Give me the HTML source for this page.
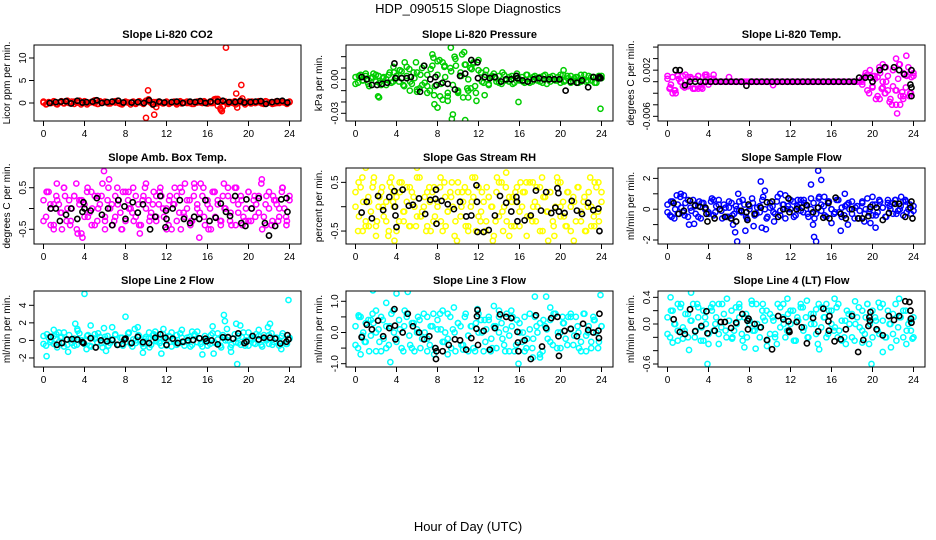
<!DOCTYPE html>
<html><head><meta charset="utf-8"><style>
body{margin:0;background:#fff;}
svg{display:block;font-family:"Liberation Sans",Arial,sans-serif;}
</style></head><body>
<svg id="chart" width="936" height="540" viewBox="0 0 936 540" xmlns="http://www.w3.org/2000/svg">
<text x="468" y="13" text-anchor="middle" font-size="13">HDP_090515  Slope Diagnostics</text>
<text x="468" y="531" text-anchor="middle" font-size="13">Hour of Day (UTC)</text>
</svg>
<script>
// ---------- shared axis data ----------
const xTickValues = [0,4,8,12,16,20,24];
const xTickLabels = ["0","4","8","12","16","20","24"];

// ---------- Panel 1: Li-820 CO2 ----------
const co2Main = [0.1,-0.3,0.2,0.0,0.3,-0.2,0.1,0.4,-0.1,0.2,0.0,0.3,-0.2,0.1,0.5,0.0,0.2,-0.3,0.1,0.3,0.0,-0.2,0.4,0.1,0.2,0.0,-0.1,0.3,0.1,0.5,-0.2,0.0,0.2,0.1,-0.3,0.3,0.0,0.2,0.1,-0.2,0.4,0.8,0.0,0.2,-0.1,0.3,0.1,0.0,0.2,-0.2,0.1,0.3,0.0,0.2,-0.1,0.1,0.3,0.0,-0.2,0.2,0.1,0.4,0.0,0.2,-0.1,0.3,0.0,0.6,0.9,-1.2,-0.8,0.3,0.1,0.2,0.0,-0.3,0.1,0.6,0.2,0.0,0.3,-0.1,0.2,0.1,0.4,0.0,-0.2,0.3,0.1,0.2,-0.1,0.0,0.3,0.2,0.1,-0.2,0.2];
const co2Main2 = [0.3,-0.2,0.1,0.4,-0.3,0.2,0.0,0.5,-0.1,0.3,0.1,-0.3,0.4,0.0,0.2,0.6,-0.2,0.1,0.3,-0.1,0.2,0.4,0.0,-0.3,0.3,0.1,0.2,-0.2,0.4,0.0,0.5,0.3,-0.4,0.2,0.1,-0.1,0.3,0.0,0.2,-0.3,0.4,0.1,0.0,0.2,-0.2,0.3,0.1,0.4,-0.1,0.0,0.8,-0.6,0.2,0.3,-0.2,0.1,0.4,0.0,0.2,-0.3,0.1,0.3,0.0,0.2,-0.1,0.4,0.1,-0.2,0.3,0.0,0.2,0.1,0.3];
const co2ExtraHours = [10.0,10.2,10.8,11.0,17.3,17.4,17.8,18.8,18.9,19.3,19.4,16.8,17.0];
const co2ExtraValues = [-3.3,2.8,-2.6,-0.9,-1.5,-1.8,12.3,2.1,-1.0,4.0,1.0,0.9,0.8];
const co2BlackHours = [0.6,1.2,1.7,2.2,2.7,3.3,3.8,4.2,4.8,5.2,5.7,6.2,6.7,7.3,7.8,8.6,9.2,9.8,10.3,10.7,11.3,11.8,12.5,13.0,13.6,14.3,14.8,15.3,15.8,16.3,17.0,17.5,18.1,18.7,19.2,19.6,20.2,20.7,21.2,21.7,22.3,22.8,23.3,23.8];
const co2BlackValues = [0.0,0.2,0.3,0.4,-0.1,0.5,0.1,0.2,0.3,0.6,0.0,0.2,0.3,0.5,0.1,0.1,0.2,0.0,0.6,-0.3,0.3,0.1,0.2,0.3,0.0,0.3,0.2,0.4,0.0,0.3,0.3,0.5,0.2,0.2,0.4,0.1,0.2,0.3,0.4,-0.2,0.2,0.4,0.5,0.1];

// ---------- Panel 2: Li-820 Pressure ----------
const presMain = [0.002,-0.003,0.004,-0.001,0.003,-0.004,0.001,0.005,-0.002,0.003,-0.005,0.002,0.000,0.004,-0.003,0.006,0.001,-0.002,0.007,-0.006,0.003,0.009,-0.004,0.001,0.006,-0.008,0.010,-0.003,0.004,-0.010,0.012,-0.006,0.004,-0.015,0.015,0.002,-0.012,0.010,-0.005,0.018,-0.010,0.006,-0.016,0.013,0.000,-0.008,0.014,-0.012,0.008,0.006,-0.003,0.008,-0.004,0.002,0.005,-0.002,0.003,-0.004,0.004,0.000,-0.002,0.003,-0.003,0.005,-0.001,0.002,-0.003,0.004,0.000,-0.002,0.003,-0.001,0.002,-0.003,0.004,0.000,-0.002,0.003,-0.001,0.002,-0.003,0.004,-0.001,0.001,0.003,-0.002,0.002,-0.003,0.004,0.000,-0.002,0.003,-0.001,0.002,-0.003,0.003,0.001];
const presMain2 = [-0.004,0.003,-0.001,0.005,-0.006,0.002,0.004,-0.003,0.001,-0.005,0.006,-0.002,0.003,0.008,-0.005,0.011,-0.002,0.006,-0.009,0.004,0.012,-0.006,0.009,-0.014,0.016,-0.004,0.011,-0.019,0.007,0.020,-0.011,0.003,0.013,-0.016,0.009,-0.006,0.017,-0.002,0.004,-0.005,0.003,0.001,-0.003,0.006,-0.001,0.002,-0.004,0.003,0.000,-0.002,0.004,-0.003,0.002,0.001,-0.002,0.003,-0.004,0.002,0.000,-0.001,0.004,-0.002,0.003,-0.003,0.001,0.002,-0.002,0.004,-0.001,0.002,-0.003,0.001,0.003];
const presExtraHours = [2.2,2.3,7.5,7.6,7.7,8.0,8.2,9.3,9.4,9.5,10.7,10.4,10.6,11.8,12.6,15.9,20.3,23.9,3.7,4.8,5.9,6.5,7.0,8.5,9.0,11.5,11.0,10.0,9.8,8.7,5.3,6.0,4.3,10.9,11.2];
const presExtraValues = [-0.015,-0.016,0.022,0.019,-0.022,-0.025,0.017,0.028,-0.035,-0.031,-0.036,0.022,0.024,-0.019,-0.014,-0.020,0.008,-0.026,0.011,0.015,0.015,-0.005,-0.012,-0.018,-0.015,0.015,-0.010,-0.012,0.012,0.012,-0.010,-0.011,0.008,-0.008,0.010];
const presBlackHours = [0.6,1.1,1.6,2.1,2.6,3.1,3.8,3.9,4.5,5.0,5.4,6.3,6.7,7.3,7.8,7.9,8.5,9.0,9.7,10.2,10.7,11.3,11.9,11.95,12.6,13.1,13.6,14.2,14.7,15.2,15.7,15.8,16.3,16.8,17.4,17.9,18.4,18.9,19.4,19.9,20.5,21.0,21.6,22.1,22.7,23.2,23.7,23.8,23.9];
const presBlackValues = [0.002,0.0,-0.005,-0.005,-0.004,-0.003,0.014,0.001,0.001,0.001,0.002,-0.011,0.012,0.0,0.002,-0.005,-0.003,-0.004,-0.009,0.003,0.005,0.017,0.015,0.001,0.002,0.001,0.002,-0.002,0.0,0.0,0.003,0.001,-0.001,-0.002,0.0,0.001,0.0,0.0,0.0,0.0,-0.010,-0.002,-0.003,-0.001,-0.007,0.002,0.001,0.002,0.001];

// ---------- Panel 3: Li-820 Temp ----------
const tempMain = [0.0005,-0.0010,0.0008,-0.0015,0.0010,0.0,-0.0008,0.0012,-0.0005,0.0008,-0.0012,0.0005,0.0010,-0.0010,0.0,0.0008,-0.0005,0.0005,0.0005,0,0,0,0,0,0,0,0,0,0,0,0,0,0,0,0,0,0,0,0,0,0,0,0,0,0,0,0,0,0,0,0,0,0,0,0,0,0,0,0,0,0,0,0,0,0,0,0,0,0,0,0,0,0,0,0,0,0,0.0010,-0.0015,0.0020,-0.0010,0.0005,-0.0025,0.0015,0.0,-0.0020,0.0010,-0.0030,0.0020,-0.0015,0.0005,-0.0025,0.0015,-0.0010,0.0025,-0.0020,0.0010];
const tempMain2 = [0.0010,-0.0005,-0.0015,0.0012,0.0,-0.0010,0.0008,0.0005,-0.0012,0.0010,-0.0005,0.0012,0.0,0,0,0,0,0,0,0,0,0,0,0,0,0,0,0,0,0,0,0,0,0,0,0,0,0,0,0,0,0,0,0,0,0,0,0,0,0,0,0,0,0,0,0,0,-0.0005,0.0015,-0.0020,0.0010,-0.0030,0.0025,-0.0010,0.0,-0.0035,0.0020,-0.0015,0.0030,-0.0030,0.0010,-0.0020,0.0015];
const tempExtraHours = [21.0,21.3,22.3,22.6,23.3,20.7,21.9,22.3,22.7,22.4,21.2,23.0,23.6,20.2,0.5,0.8,1.5,2.5,3.0,3.8,4.5,10.3,6.0,19.5,20.0,20.5,21.5,22.0,23.5,23.8,19.0,20.9,22.9,23.1,0.2,1.1,2.0,3.4];
const tempExtraValues = [0.0030,0.0025,0.0040,0.0030,0.0045,-0.0030,-0.0040,-0.0040,-0.0040,-0.0055,-0.0020,-0.0025,-0.0025,0.0010,-0.0020,-0.0020,0.0010,-0.0012,-0.0012,0.0012,0.0012,-0.0006,0.0008,0.0012,-0.0008,0.0008,-0.0015,-0.0008,0.0012,0.0008,0.0005,-0.0012,-0.0018,0.0012,-0.0012,0.0005,-0.0008,-0.0012];
const tempBlackHours = [0.8,1.2,1.7,2.2,2.7,3.2,3.7,4.2,4.7,5.2,5.7,6.2,6.7,7.2,7.7,8.2,8.7,9.2,9.7,10.2,10.7,11.2,11.7,12.2,12.7,13.2,13.7,14.2,14.7,15.2,15.7,16.2,16.7,17.2,17.7,18.2,18.7,19.3,19.8,20.0,20.7,21.2,22.1,22.6,23.1,23.8,23.7,23.8,23.8];
const tempBlackValues = [0.002,0.002,-0.0006,0,0,0,0,0,0,0,0,0,0,0,-0.0007,0,0,0,0,0,0,0,0,0,0,0,0,0,0,0,0,0,0,0,0,0,0.0007,0.0007,0.0007,0.0,0.002,0.0025,0.0025,0.002,0.0013,0.002,-0.0005,-0.0010,-0.0025];

// ---------- Panel 4: Amb. Box Temp ----------
const ambMain = [0.2,-0.2,0.4,0.0,-0.4,0.3,0.1,-0.1,0.5,-0.3,0.2,0.0,0.3,-0.5,0.1,0.2,-0.2,0.4,-0.1,0.0,0.3,-0.3,0.1,0.6,-0.2,0.2,0.0,-0.4,0.3,0.1,-0.1,0.4,-0.3,0.2,0.0,0.5,-0.2,0.1,-0.4,0.3,0.0,0.2,-0.1,0.4,-0.3,0.1,0.3,-0.2,0.0,0.2,-0.5,0.1,0.3,-0.1,0.4,-0.2,0.0,0.2,-0.3,0.5,0.1,-0.1,0.3,-0.4,0.2,0.0,0.4,-0.2,0.1,-0.3,0.3,0.0,0.5,-0.1,0.2,-0.4,0.1,0.3,-0.2,0.0,0.4,-0.3,0.2,0.1,-0.1,0.6,-0.2,0.3,0.0,-0.4,0.2,0.1,-0.2,0.4,0.0,-0.3,0.2];
const ambMain2 = [-0.3,0.4,0.1,-0.5,0.2,-0.1,0.5,0.0,-0.3,0.3,-0.6,0.2,0.1,-0.2,0.4,-0.4,0.0,0.3,-0.3,0.5,0.1,-0.2,0.2,-0.5,0.4,0.0,-0.1,0.3,-0.4,0.2,0.6,-0.3,0.1,-0.2,0.4,0.0,-0.5,0.3,0.1,-0.3,0.5,-0.1,0.2,-0.4,0.3,0.0,0.6,-0.2,0.1,-0.5,0.4,0.2,-0.3,0.0,0.3,-0.4,0.5,-0.1,0.2,-0.3,0.4,0.0,-0.2,0.3,-0.5,0.1,0.4,-0.3,0.2,0.0,0.5,-0.2,0.3];
const ambExtraHours = [0.3,0.7,1.0,1.3,1.8,2.1,2.6,3.2,3.5,3.7,3.8,4.3,4.7,5.3,5.9,6.0,6.4,6.9,7.2,7.6,8.3,8.8,9.4,9.9,10.4,11.0,11.4,12.2,12.8,13.4,13.8,14.4,14.7,15.2,15.6,16.1,16.7,17.3,17.6,18.2,18.8,19.4,20.0,20.6,21.3,21.7,22.4,22.9,23.3,23.7];
const ambExtraValues = [0.4,-0.4,0.1,0.6,-0.5,0.3,-0.4,0.6,0.2,-0.6,-0.7,0.5,-0.4,0.3,0.9,-0.5,0.7,-0.3,0.5,-0.5,0.4,-0.3,-0.6,0.5,-0.2,0.3,0.5,-0.4,0.5,-0.5,0.6,-0.3,0.6,-0.7,0.5,-0.5,0.4,-0.4,0.6,-0.3,0.5,-0.4,-0.3,0.3,0.7,-0.4,0.3,-0.3,0.5,-0.4];
const ambBlackHours = [0.7,1.2,1.6,2.2,2.7,3.3,3.8,3.9,4.0,4.6,5.2,5.7,6.3,6.7,7.3,7.9,8.0,8.7,9.2,9.7,10.4,10.9,11.4,11.9,11.95,12.0,12.6,13.3,13.7,14.3,14.7,15.2,15.8,16.2,16.8,17.3,17.8,18.2,18.7,19.3,19.7,19.8,20.3,21.0,21.6,22.0,22.6,23.2,23.7,23.8];
const ambBlackValues = [0.0,0.0,-0.3,-0.15,0.0,-0.25,-0.08,0.15,0.0,-0.05,0.25,-0.15,0.0,-0.4,0.2,0.05,-0.25,0.15,-0.1,0.1,-0.5,-0.2,0.3,-0.45,-0.05,-0.25,0.0,0.2,-0.25,-0.35,-0.2,-0.25,0.2,-0.3,-0.22,0.12,-0.08,-0.18,0.3,-0.35,-0.42,0.22,0.0,0.25,-0.35,-0.65,-0.42,0.22,0.25,-0.08];

// ---------- Panel 5: Gas Stream RH ----------
const rhMain = [0.0,-0.5,0.4,0.1,-0.3,0.2,-0.1,0.5,-0.4,0.0,0.3,-0.2,0.1,-0.5,0.4,0.0,0.2,-0.3,0.5,-0.1,0.1,-0.4,0.3,0.0,-0.2,0.6,-0.1,0.2,-0.4,0.1,0.3,-0.2,0.0,0.4,-0.5,0.2,-0.1,0.3,0.0,-0.3,0.5,-0.2,0.1,-0.4,0.3,0.0,0.2,-0.5,0.4,-0.1,0.1,-0.3,0.2,0.0,-0.6,0.3,-0.2,0.5,0.0,-0.3,0.2,0.1,-0.4,0.4,-0.1,0.0,0.3,-0.2,0.5,-0.3,0.1,0.0,0.4,-0.5,0.2,-0.1,0.3,-0.3,0.0,0.5,-0.2,0.1,-0.4,0.3,0.0,0.2,-0.3,0.4,-0.1,0.1,-0.5,0.3,0.0,-0.2,0.4,-0.3,0.1];
const rhMain2 = [0.3,-0.2,0.6,-0.4,0.1,0.4,-0.6,0.2,0.0,-0.3,0.5,0.1,-0.5,0.3,-0.1,0.4,-0.4,0.2,0.6,-0.2,0.0,0.3,-0.5,0.4,0.1,-0.3,0.5,-0.1,0.2,-0.6,0.3,0.0,0.4,-0.4,0.1,0.6,-0.2,0.3,-0.5,0.2,0.0,-0.3,0.5,-0.1,0.4,-0.6,0.2,0.1,-0.4,0.3,0.5,-0.2,0.0,0.4,-0.5,0.2,-0.1,0.3,-0.4,0.6,0.0,-0.2,0.3,-0.5,0.1,0.4,-0.3,0.2,0.0,-0.4,0.5,-0.1,0.3];
const rhExtraHours = [0.3,0.7,1.0,1.3,1.8,2.1,2.6,3.2,3.5,3.7,3.8,4.3,4.7,5.3,5.9,6.0,6.4,6.9,7.2,7.6,8.3,8.8,9.4,9.9,10.4,11.0,11.4,12.2,12.8,13.4,13.8,14.4,14.7,15.2,15.6,16.1,16.7,17.3,17.6,18.2,18.8,19.4,20.0,20.6,21.3,21.7,22.4,22.9,23.3,23.7];
const rhExtraValues = [0.5,-0.5,0.8,-0.4,0.6,-0.3,0.4,-0.6,0.6,0.3,-0.7,0.5,-0.3,0.4,-0.4,0.8,-0.2,-0.5,0.4,-0.3,0.6,-0.4,0.5,-0.7,0.3,-0.5,0.6,-0.3,0.4,-0.7,0.6,-0.5,0.7,-0.4,0.3,0.5,-0.6,0.5,-0.3,0.6,-0.7,-0.6,0.5,-0.4,-0.7,0.4,-0.5,0.6,-0.4,0.5];
const rhBlackHours = [0.6,1.1,1.6,2.2,2.7,3.3,3.8,3.85,3.9,4.0,4.6,5.2,5.6,6.2,6.8,7.3,7.8,7.85,7.9,8.4,9.0,9.6,10.2,10.8,11.3,11.8,11.85,11.9,12.5,13.0,13.6,14.1,14.7,15.2,15.7,15.75,15.8,16.5,17.1,17.6,18.1,18.6,19.1,19.5,19.7,19.8,19.85,20.4,21.1,21.6,22.1,22.7,23.2,23.7,23.8];
const rhBlackValues = [-0.12,0.1,-0.24,0.22,-0.07,0.2,0.32,0.0,-0.18,-0.42,0.35,0.02,0.04,0.17,-0.15,0.14,0.16,0.35,-0.35,0.12,0.05,-0.05,0.1,-0.2,-0.18,0.44,0.1,-0.52,-0.52,-0.48,-0.18,0.22,0.08,-0.1,0.2,0.1,-0.3,-0.28,-0.18,0.33,-0.08,0.3,-0.13,-0.02,0.38,0.28,-0.1,-0.13,0.12,-0.08,-0.15,0.08,-0.07,-0.04,-0.5];

// ---------- Panel 6: Sample Flow ----------
const sfMain = [0.3,-0.4,0.5,0.0,-0.3,0.8,-0.2,0.4,-0.5,0.1,0.6,-0.3,0.2,-0.6,0.4,0.0,-0.2,0.5,-0.4,0.2,0.6,-0.1,0.3,-0.5,0.1,0.4,-0.3,0.0,0.5,-0.2,0.3,-0.6,0.2,0.7,-0.4,0.1,-0.2,0.6,0.0,-0.5,0.4,0.2,-0.3,0.8,-0.1,0.3,-0.6,0.2,0.0,0.5,-0.4,0.1,0.6,-0.2,0.3,-0.5,0.0,0.4,-0.3,0.7,-0.1,0.2,-0.5,0.5,0.0,-0.3,0.6,-0.2,0.1,-0.4,0.3,0.0,0.5,-0.6,0.2,-0.1,0.4,-0.3,0.7,0.0,-0.4,0.3,-0.2,0.5,0.1,-0.5,0.4,0.0,-0.3,0.6,-0.1,0.2,-0.4,0.5,0.0,-0.3,0.2];
const sfMain2 = [-0.2,0.5,-0.6,0.3,0.1,-0.4,0.6,-0.1,0.2,-0.5,0.4,0.0,-0.3,0.7,-0.2,0.3,-0.6,0.1,0.5,-0.4,0.2,-0.1,0.6,-0.5,0.0,0.4,-0.3,0.2,0.8,-0.6,0.1,-0.2,0.5,-0.4,0.3,0.0,0.6,-0.5,0.2,-0.1,0.4,-0.3,0.7,-0.6,0.1,0.3,-0.4,0.5,0.0,-0.2,0.6,-0.5,0.2,0.4,-0.3,0.1,-0.6,0.5,0.0,-0.2,0.3,-0.4,0.6,0.1,-0.5,0.2,0.4,-0.3,0.0,0.5,-0.2,0.3,-0.1];
const sfExtraHours = [0.4,0.9,1.3,1.6,2.1,2.6,3.1,4.5,5.9,6.4,6.6,6.8,6.9,7.6,8.4,9.1,9.2,9.5,9.6,10.4,11.0,11.5,12.7,13.3,14.0,14.2,14.3,14.5,14.7,14.8,15.0,15.3,16.0,16.9,17.3,17.6,19.2,19.8,20.0,20.3,21.5,22.2,22.8,23.2];
const sfExtraValues = [-0.5,0.9,1.0,0.9,-1.0,-0.95,0.5,0.6,-0.5,-1.0,-1.5,-2.1,1.0,-1.4,-1.1,1.8,-1.2,1.2,-1.3,-0.8,1.0,0.9,0.6,0.6,1.6,-1.0,-1.8,-2.1,2.5,0.8,1.9,0.8,-0.9,-1.4,1.0,-1.0,-0.8,-0.9,0.8,-1.2,0.6,0.6,0.8,0.6];
const sfBlackHours = [0.6,1.1,1.6,2.2,2.7,3.2,3.7,3.8,3.9,4.6,5.1,5.6,6.2,6.7,7.2,7.7,7.8,7.9,8.5,9.1,9.7,10.2,10.8,11.3,11.8,11.9,12.6,13.1,13.6,14.2,14.7,15.2,15.7,15.8,16.4,16.9,17.4,18.0,18.6,19.0,19.6,19.8,20.4,21.0,21.6,22.2,22.6,23.2,23.7,23.8,23.9];
const sfBlackValues = [0.4,-0.3,-0.1,0.55,0.25,0.15,0.1,-0.3,-0.8,-0.6,0.0,-0.5,-0.6,-0.8,-0.1,-0.2,-0.7,0.3,-0.3,0.1,0.45,0.5,-0.5,0.0,0.7,-0.2,0.0,0.1,0.25,-0.2,0.1,-0.55,0.4,-0.6,0.75,-0.3,-0.6,0.0,-0.6,-0.6,-0.45,0.15,0.1,-0.7,-0.25,0.35,0.35,-0.5,0.1,0.5,-0.6];

// ---------- Panel 7: Line 2 Flow ----------
const l2Main = [0.5,-0.6,0.3,0.0,-0.4,0.7,-0.2,0.4,-0.7,0.1,0.6,-0.3,0.2,-0.5,0.8,0.0,-0.4,0.5,-0.6,0.3,0.7,-0.2,0.4,-0.8,0.1,0.5,-0.3,0.0,0.6,-0.5,0.3,-0.6,0.2,0.8,-0.4,0.1,-0.3,0.6,0.0,-0.7,0.4,0.2,-0.5,0.7,-0.1,0.3,-0.6,0.2,0.0,0.5,-0.7,0.1,0.6,-0.3,0.3,-0.6,0.0,0.4,-0.5,0.7,-0.2,0.2,-0.7,0.5,0.0,-0.4,0.8,-0.3,0.1,-0.6,0.6,0.0,0.4,-0.8,0.2,-0.2,0.5,-0.5,0.9,0.0,-0.6,0.3,-0.3,0.7,0.1,-0.5,0.6,0.0,-0.4,0.8,-0.2,0.3,-0.6,0.5,0.0,-0.4,0.3];
const l2Main2 = [-0.4,0.7,-0.2,0.5,-0.8,0.3,0.9,-0.5,0.1,-0.6,1.1,0.0,-0.4,0.6,-0.7,0.2,0.8,-0.3,0.4,-0.6,0.1,0.7,-0.5,0.3,-0.2,0.9,-0.7,0.0,0.5,-0.4,0.2,-0.8,0.6,0.1,-0.3,0.7,-0.6,0.4,0.0,-0.5,0.8,-0.2,0.3,-0.7,0.5,1.0,-0.4,0.1,-0.6,0.6,-0.2,0.8,-0.8,0.3,0.0,-0.5,0.7,-0.3,0.4,-0.6,0.9,0.1,-0.4,0.5,-0.7,0.2,0.6,-0.5,0.3,-0.2,0.8,-0.4,0.2];
const l2ExtraHours = [0.3,1.0,1.5,2.4,3.1,3.3,4.0,4.2,4.6,5.9,6.1,6.7,8.0,8.3,8.9,9.2,9.7,10.3,10.9,11.5,11.7,12.5,13.5,14.5,15.5,16.5,16.6,17.6,17.7,17.9,18.3,18.8,18.9,19.2,21.0,21.9,22.1,23.2,23.9];
const l2ExtraValues = [-1.8,1.2,0.9,-1.3,1.9,1.3,5.3,-1.0,1.7,1.4,-1.2,1.5,2.7,0.8,1.3,1.5,-1.4,0.9,1.0,-1.5,1.3,0.9,1.2,1.0,-1.6,1.6,-1.5,2.9,2.2,1.3,-1.3,1.9,-2.7,1.7,1.2,1.5,1.9,-1.0,4.6];
const l2BlackHours = [0.7,1.3,1.8,2.3,2.8,3.3,3.8,3.9,4.6,5.1,5.6,6.2,6.7,7.2,7.7,7.9,8.0,8.6,9.2,9.7,10.3,10.9,11.4,11.9,12.0,12.6,13.1,13.6,14.1,14.6,15.2,15.8,15.9,16.4,17.0,17.5,18.0,18.5,19.0,19.6,19.8,20.4,21.0,21.5,22.1,22.6,23.1,23.7,23.8,23.9];
const l2BlackValues = [0.4,-0.5,-0.3,0.1,0.15,0.1,-0.2,-0.3,0.25,-0.8,0.0,-0.1,0.05,-0.5,-0.4,0.1,0.2,-0.3,0.4,-0.2,-0.3,0.3,0.7,0.3,-0.5,0.2,-0.3,-0.15,0.0,0.05,0.25,0.2,-0.1,0.0,-0.45,0.35,0.35,0.2,0.8,-0.3,-0.15,0.5,0.1,0.3,0.3,0.2,-0.35,-0.15,0.6,0.1];

// ---------- Panel 8: Line 3 Flow ----------
const l3Main = [0.2,-0.5,0.5,0.0,-0.3,0.4,-0.1,0.3,-0.6,0.1,0.5,-0.2,0.2,-0.4,0.6,0.0,-0.3,0.4,-0.5,0.2,0.6,-0.1,0.3,-0.6,0.1,0.4,-0.2,0.0,0.5,-0.4,0.2,-0.5,0.1,0.6,-0.3,0.0,-0.2,0.5,0.1,-0.6,0.3,0.2,-0.4,0.6,-0.1,0.2,-0.5,0.3,0.0,0.4,-0.6,0.1,0.5,-0.2,0.2,-0.5,0.0,0.3,-0.4,0.6,-0.1,0.2,-0.6,0.4,0.0,-0.3,0.5,-0.2,0.1,-0.5,0.5,0.0,0.3,-0.6,0.2,-0.2,0.4,-0.4,0.6,0.0,-0.5,0.3,-0.2,0.5,0.1,-0.4,0.5,0.0,-0.3,0.6,-0.1,0.2,-0.5,0.4,0.0,-0.3,0.2];
const l3Main2 = [-0.4,0.5,-0.1,0.3,-0.6,0.6,0.0,-0.3,0.4,-0.5,0.2,0.7,-0.2,0.1,-0.6,0.5,-0.4,0.3,0.0,-0.5,0.6,-0.2,0.2,-0.7,0.4,0.1,-0.3,0.6,-0.5,0.0,0.3,-0.4,0.5,-0.1,0.2,-0.6,0.6,0.0,-0.3,0.4,-0.5,0.2,0.7,-0.2,0.1,-0.6,0.5,-0.4,0.3,0.0,-0.5,0.6,-0.2,0.2,-0.7,0.4,0.1,-0.3,0.6,-0.5,0.0,0.3,-0.4,0.5,-0.1,0.2,-0.6,0.6,0.0,-0.3,0.4,-0.5,0.2];
const l3ExtraHours = [0.3,0.5,0.9,1.5,1.7,2.0,2.5,3.0,3.4,4.0,4.8,5.1,5.5,6.1,7.0,7.6,8.5,9.0,9.6,10.5,11.0,11.9,12.6,13.2,13.5,14.0,14.6,15.2,15.9,16.5,17.3,17.5,18.0,18.6,19.0,20.2,21.0,21.8,22.5,23.2,23.9];
const l3ExtraValues = [0.55,-0.7,-0.3,0.4,1.35,0.7,-0.6,0.95,-0.95,1.25,0.7,1.3,-0.5,0.5,-0.6,0.6,0.7,-0.7,0.8,-0.55,-0.6,0.75,0.4,-0.6,0.85,0.5,-0.6,0.7,-1.0,-0.6,-0.8,1.15,-0.8,1.15,0.8,0.5,0.6,-0.5,-0.6,0.5,1.2];
const l3BlackHours = [0.6,1.1,1.6,2.2,2.7,3.3,3.8,3.85,3.9,4.6,5.1,5.6,6.2,6.7,7.2,7.8,7.85,7.9,8.5,9.1,9.7,10.2,10.8,11.3,11.8,11.85,11.9,11.95,12.5,13.1,13.6,14.1,14.7,15.2,15.8,15.85,15.9,16.5,17.1,17.6,18.2,18.6,19.1,19.7,19.8,19.85,20.4,21.0,21.6,22.2,22.7,23.2,23.7,23.75,23.8];
const l3BlackValues = [-0.15,0.25,0.1,0.38,-0.12,0.14,0.75,0.22,-0.22,0.0,0.6,0.2,0.0,-0.22,-0.12,-0.5,-0.85,-0.6,-0.6,-0.4,-0.22,-0.25,-0.55,-0.18,0.12,0.52,0.72,-0.4,0.05,-0.55,0.14,0.58,0.5,0.46,0.02,-0.32,-0.6,-0.25,-0.85,0.55,-0.45,0.14,0.46,0.5,-0.12,-0.75,0.05,0.12,-0.12,0.28,0.08,0.0,0.06,-0.18,0.6];

// ---------- Panel 9: Line 4 (LT) Flow ----------
const l4Main = [0.1,-0.2,0.2,0.0,-0.1,0.25,-0.05,0.15,-0.2,0.05,0.3,-0.1,0.1,-0.25,0.2,0.0,-0.15,0.25,-0.1,0.1,0.3,-0.05,0.15,-0.2,0.05,0.2,-0.1,0.0,0.25,-0.15,0.1,-0.2,0.05,0.3,-0.1,0.0,-0.05,0.2,0.05,-0.25,0.15,0.1,-0.15,0.3,-0.05,0.1,-0.2,0.15,0.0,0.2,-0.25,0.05,0.25,-0.1,0.1,-0.2,0.0,0.15,-0.15,0.3,-0.05,0.1,-0.2,0.2,0.0,-0.1,0.25,-0.1,0.05,-0.2,0.2,0.0,0.15,-0.25,0.1,-0.05,0.2,-0.15,0.3,0.0,-0.2,0.1,-0.1,0.25,0.05,-0.2,0.2,0.0,-0.15,0.3,-0.05,0.1,-0.2,0.2,0.0,-0.1,0.1];
const l4Main2 = [-0.15,0.2,0.0,-0.25,0.3,-0.1,0.15,0.05,-0.2,0.25,-0.05,0.1,-0.3,0.2,0.0,-0.15,0.3,-0.1,0.05,-0.2,0.25,0.1,-0.25,0.15,0.0,-0.1,0.3,-0.2,0.1,0.2,-0.15,0.05,-0.3,0.25,0.0,-0.1,0.2,-0.25,0.1,0.3,-0.05,-0.2,0.15,0.0,-0.3,0.25,0.1,-0.15,0.2,-0.05,0.3,-0.25,0.05,0.15,-0.2,0.0,0.25,-0.1,0.1,-0.3,0.2,0.05,-0.15,0.3,-0.2,0.0,0.15,-0.25,0.1,0.2,-0.1,0.05,-0.2];
const l4ExtraHours = [0.3,0.5,1.0,1.5,2.1,2.3,2.9,3.5,3.9,4.4,5.0,5.8,6.3,7.0,7.5,8.2,8.6,9.3,9.7,10.5,11.3,11.7,12.5,13.2,13.6,14.5,14.8,15.5,16.3,16.6,17.4,18.3,19.0,19.5,19.9,20.6,21.0,21.8,22.6,23.3,23.9];
const l4ExtraValues = [0.4,-0.28,0.3,-0.22,-0.39,0.47,0.3,-0.25,-0.6,0.3,-0.3,0.38,-0.22,0.3,-0.35,0.35,-0.37,0.3,-0.33,-0.2,0.3,0.38,-0.25,0.25,0.35,0.22,-0.38,0.3,0.38,-0.2,-0.3,0.34,-0.28,0.3,-0.6,0.32,-0.42,-0.35,0.38,-0.3,-0.22];
const l4BlackHours = [0.6,1.2,1.7,2.2,2.7,3.3,3.8,3.9,4.6,5.2,5.6,6.2,6.7,7.3,7.8,7.85,7.9,8.5,9.1,9.7,10.2,10.8,11.3,11.8,11.85,11.9,12.6,13.1,13.6,14.2,14.7,15.2,15.7,15.75,15.8,16.3,16.9,17.4,18.0,18.6,19.1,19.6,19.7,19.75,19.8,20.4,21.0,21.6,22.1,22.6,23.2,23.6,23.7,23.75,23.8];
const l4BlackValues = [0.07,-0.12,-0.15,0.22,-0.11,-0.03,0.19,-0.14,-0.1,0.03,0.03,-0.06,0.02,0.15,0.05,-0.08,0.08,0.0,-0.05,-0.24,-0.38,0.12,0.07,0.04,-0.1,-0.12,0.03,-0.05,-0.29,0.09,-0.11,0.23,0.04,-0.1,0.12,-0.26,-0.23,-0.08,0.12,-0.42,-0.24,-0.03,0.1,0.05,0.18,-0.08,-0.17,0.12,0.06,0.12,0.34,0.33,0.2,0.08,0.02];

// ---------- tick arrays ----------
const co2Ticks=[0,5,10], co2TickLabels=["0","5","10"];
const presTicks=[-0.03,-0.02,-0.01,0,0.01,0.02], presTickLabels=["-0.03","","","0.00","",""];
const tempTicks=[-0.006,-0.004,-0.002,0,0.002,0.004,0.006], tempTickLabels=["-0.006","","","","0.002","",""];
const ambTicks=[-0.5,0,0.5], ambTickLabels=["-0.5","","0.5"];
const rhTicks=[-0.5,0,0.5], rhTickLabels=["-0.5","","0.5"];
const sfTicks=[-2,-1,0,1,2], sfTickLabels=["-2","","0","","2"];
const l2Ticks=[-2,0,2,4], l2TickLabels=["-2","0","2","4"];
const l3Ticks=[-1,-0.5,0,0.5,1], l3TickLabels=["-1.0","","0.0","","1.0"];
const l4Ticks=[-0.6,-0.4,-0.2,0,0.2,0.4], l4TickLabels=["-0.6","","","0.0","","0.4"];

const panels = [
 {id:"co2",title:"Slope Li-820 CO2",ylab:"Licor ppm per min.",col:0,row:0,yTop:12.89,yBot:-4.0,color:"#ff0000",main:co2Main,main2:co2Main2,eh:co2ExtraHours,ev:co2ExtraValues,bh:co2BlackHours,bv:co2BlackValues,ticks:co2Ticks,tl:co2TickLabels},
 {id:"pressure",title:"Slope Li-820 Pressure",ylab:"kPa per min.",col:1,row:0,yTop:0.0303,yBot:-0.0368,color:"#00cd00",main:presMain,main2:presMain2,eh:presExtraHours,ev:presExtraValues,bh:presBlackHours,bv:presBlackValues,ticks:presTicks,tl:presTickLabels},
 {id:"temp",title:"Slope Li-820 Temp.",ylab:"degrees C per min.",col:2,row:0,yTop:0.00636,yBot:-0.00681,color:"#ff00ff",main:tempMain,main2:tempMain2,eh:tempExtraHours,ev:tempExtraValues,bh:tempBlackHours,bv:tempBlackValues,ticks:tempTicks,tl:tempTickLabels},
 {id:"amb-box-temp",title:"Slope Amb. Box Temp.",ylab:"degrees C per min.",col:0,row:1,yTop:0.974,yBot:-0.853,color:"#ff00ff",main:ambMain,main2:ambMain2,eh:ambExtraHours,ev:ambExtraValues,bh:ambBlackHours,bv:ambBlackValues,ticks:ambTicks,tl:ambTickLabels},
 {id:"gas-rh",title:"Slope Gas Stream RH",ylab:"percent per min.",col:1,row:1,yTop:0.795,yBot:-0.766,color:"#ffff00",main:rhMain,main2:rhMain2,eh:rhExtraHours,ev:rhExtraValues,bh:rhBlackHours,bv:rhBlackValues,ticks:rhTicks,tl:rhTickLabels},
 {id:"sample-flow",title:"Slope Sample Flow",ylab:"ml/min per min.",col:2,row:1,yTop:2.675,yBot:-2.26,color:"#0000ff",main:sfMain,main2:sfMain2,eh:sfExtraHours,ev:sfExtraValues,bh:sfBlackHours,bv:sfBlackValues,ticks:sfTicks,tl:sfTickLabels},
 {id:"line2-flow",title:"Slope Line 2 Flow",ylab:"ml/min per min.",col:0,row:2,yTop:5.63,yBot:-3.03,color:"#00ffff",main:l2Main,main2:l2Main2,eh:l2ExtraHours,ev:l2ExtraValues,bh:l2BlackHours,bv:l2BlackValues,ticks:l2Ticks,tl:l2TickLabels},
 {id:"line3-flow",title:"Slope Line 3 Flow",ylab:"ml/min per min.",col:1,row:2,yTop:1.33,yBot:-1.106,color:"#00ffff",main:l3Main,main2:l3Main2,eh:l3ExtraHours,ev:l3ExtraValues,bh:l3BlackHours,bv:l3BlackValues,ticks:l3Ticks,tl:l3TickLabels},
 {id:"line4-flow",title:"Slope Line 4 (LT) Flow",ylab:"ml/min per min.",col:2,row:2,yTop:0.495,yBot:-0.645,color:"#00ffff",main:l4Main,main2:l4Main2,eh:l4ExtraHours,ev:l4ExtraValues,bh:l4BlackHours,bv:l4BlackValues,ticks:l4Ticks,tl:l4TickLabels}
];

const NS="http://www.w3.org/2000/svg";
const svg=document.getElementById("chart");
function mk(tag,attrs,parent){const e=document.createElementNS(NS,tag);for(const k in attrs)e.setAttribute(k,attrs[k]);(parent||svg).appendChild(e);return e;}

const boxW=267, boxH=76;
panels.forEach(p=>{
  const L=[34,346,658][p.col], T=[45,168,291][p.row];
  const xS=h=>L+9.5+h*(246/24);
  const yS=v=>T+(p.yTop-v)/(p.yTop-p.yBot)*boxH;
  const g=mk("g",{});
  
  
  const cp=mk("clipPath",{id:"clip-"+p.id},g);
  mk("rect",{x:L,y:T,width:boxW,height:boxH},cp);
  const t=mk("text",{x:L+boxW/2,y:T-7,"text-anchor":"middle","font-size":"11","font-weight":"bold"},g);
  t.textContent=p.title;
  
  
  const yl=mk("text",{x:0,y:0,"text-anchor":"middle","font-size":"10",transform:`translate(${L-24},${T+boxH/2}) rotate(-90)`},g);
  yl.textContent=p.ylab;
  
  
  const pts=mk("g",{"clip-path":`url(#clip-${p.id})`,fill:"none"},g);
  
  
  [p.main,p.main2].forEach(arr=>{
    const n=arr.length;
    arr.forEach((v,i)=>{
      const c=mk("circle",{cx:xS(i*24/(n-1)),cy:yS(v),r:2.6,stroke:p.color,"stroke-width":1.5},pts);
      
      
    });
  });
  for(let i=0;i<Math.min(p.eh.length,p.ev.length);i++){
    const c=mk("circle",{cx:xS(p.eh[i]),cy:yS(p.ev[i]),r:2.6,stroke:p.color,"stroke-width":1.5},pts);
    
    
  }
  for(let i=0;i<Math.min(p.bh.length,p.bv.length);i++){
    const c=mk("circle",{cx:xS(p.bh[i]),cy:yS(p.bv[i]),r:2.6,stroke:"#000","stroke-width":1.6},pts);
    
    
  }
  const box=mk("rect",{x:L,y:T,width:boxW,height:boxH,fill:"none",stroke:"#000","stroke-width":1},g);
  
  
  const xa=mk("g",{},g);
  
  
  xTickValues.forEach((h,i)=>{
    const x=xS(h);
    mk("line",{x1:x,x2:x,y1:T+boxH,y2:T+boxH+5,stroke:"#000"},xa);
    const tx=mk("text",{x:x,y:T+boxH+16,"text-anchor":"middle","font-size":"10"},xa);
    tx.textContent=xTickLabels[i];
  });
  const ya=mk("g",{},g);
  
  
  p.ticks.forEach((v,i)=>{
    const y=yS(v);
    if(y<T-1||y>T+boxH+1) return;
    mk("line",{x1:L-5,x2:L,y1:y,y2:y,stroke:"#000"},ya);
    if(p.tl[i]){
      const tx=mk("text",{x:0,y:0,"text-anchor":"middle","font-size":"10",transform:`translate(${L-8},${y}) rotate(-90)`},ya);
      tx.textContent=p.tl[i];
    }
  });
});
</script>
</body></html>
